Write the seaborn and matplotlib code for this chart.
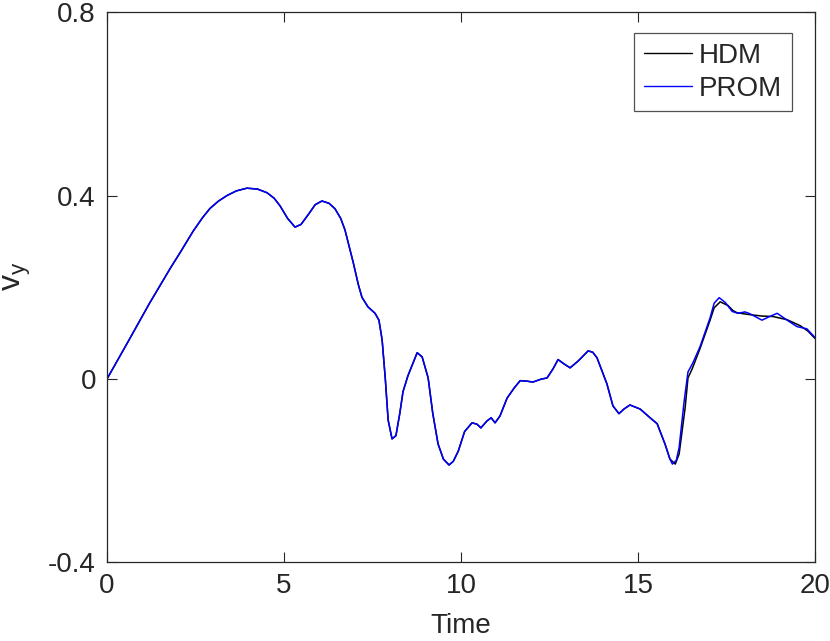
import numpy as np
import pandas as pd
import matplotlib
matplotlib.use("Agg")
import matplotlib.pyplot as plt
import seaborn as sns

# shared part of the trajectory (HDM and PROM overlap up to t ~ 15.9)
time_common = [0, 0.6, 1.2, 1.8, 2.06, 2.43, 2.7, 2.91, 3.15, 3.39, 3.65, 3.95, 4.25, 4.52,
               4.72, 4.89, 5.1, 5.31, 5.48, 5.68, 5.88, 6.07, 6.27, 6.44, 6.6, 6.72, 6.95,
               7.1, 7.2, 7.37, 7.57, 7.68, 7.77, 7.86, 7.94, 8.05, 8.16, 8.27, 8.36, 8.5,
               8.62, 8.76, 8.9, 9.07, 9.2, 9.35, 9.5, 9.66, 9.78, 9.92, 10.1, 10.31, 10.45,
               10.56, 10.73, 10.85, 10.96, 11.1, 11.3, 11.5, 11.67, 11.85, 12.03, 12.25,
               12.43, 12.6, 12.74, 12.9, 13.08, 13.31, 13.59, 13.72, 13.84, 14.12, 14.29,
               14.46, 14.6, 14.77, 15.06, 15.34, 15.54, 15.76, 15.9]
vy_common = [0, 0.082, 0.165, 0.243, 0.275, 0.322, 0.352, 0.372, 0.388, 0.400, 0.410, 0.416,
             0.414, 0.406, 0.394, 0.377, 0.350, 0.331, 0.337, 0.358, 0.380, 0.388, 0.383,
             0.371, 0.350, 0.325, 0.255, 0.205, 0.178, 0.157, 0.143, 0.128, 0.085, 0.0,
             -0.09, -0.131, -0.124, -0.075, -0.028, 0.007, 0.030, 0.057, 0.048, 0.002,
             -0.075, -0.142, -0.175, -0.188, -0.180, -0.158, -0.115, -0.096, -0.099, -0.107,
             -0.092, -0.085, -0.096, -0.081, -0.042, -0.020, -0.004, -0.005, -0.007, -0.001,
             0.002, 0.022, 0.042, 0.033, 0.024, 0.039, 0.061, 0.058, 0.046, -0.011, -0.059,
             -0.076, -0.066, -0.057, -0.066, -0.085, -0.098, -0.142, -0.175]

# tails where the two solutions separate
time_hdm_tail = [16.05, 16.16, 16.33, 16.41, 16.53, 16.75, 17.03, 17.15, 17.32, 17.54, 17.68,
                 17.8, 18.16, 18.5, 18.81, 19.21, 19.58, 19.8, 20.0]
vy_hdm_tail = [-0.186, -0.164, -0.063, 0.002, 0.022, 0.066, 0.127, 0.155, 0.168, 0.160, 0.149,
               0.144, 0.140, 0.137, 0.136, 0.129, 0.116, 0.104, 0.088]
time_prom_tail = [15.97, 16.08, 16.16, 16.3, 16.41, 16.55, 16.75, 17.03, 17.15, 17.29, 17.46,
                  17.66, 17.82, 18.02, 18.16, 18.5, 18.72, 18.93, 19.21, 19.49, 19.77, 20.0]
vy_prom_tail = [-0.186, -0.178, -0.150, -0.05, 0.015, 0.035, 0.07, 0.132, 0.165, 0.177, 0.167,
                0.147, 0.143, 0.146, 0.142, 0.128, 0.136, 0.143, 0.128, 0.114, 0.109, 0.090]

x_ticks = [0, 5, 10, 15, 20]
y_ticks = [-0.4, 0, 0.4, 0.8]
y_tick_labels = ["-0.4", "0", "0.4", "0.8"]

sns.set_theme(style="ticks")
plt.rcParams['font.family'] = ['Liberation Sans', 'DejaVu Sans']
plt.rcParams['mathtext.fontset'] = 'custom'
plt.rcParams['mathtext.rm'] = 'Liberation Sans'


def main():
    hdm = pd.DataFrame({"Time": time_common + time_hdm_tail, "vy": vy_common + vy_hdm_tail})
    hdm["model"] = "HDM"
    prom = pd.DataFrame({"Time": time_common + time_prom_tail, "vy": vy_common + vy_prom_tail})
    prom["model"] = "PROM"
    df = pd.concat([hdm, prom], ignore_index=True)

    fig = plt.figure(figsize=(8.30, 6.41), dpi=100)
    ax = fig.add_axes([0.129, 0.123, 0.853, 0.858])

    sns.lineplot(data=df, x="Time", y="vy", hue="model", sort=False, estimator=None,
                 palette={"HDM": "black", "PROM": "blue"}, linewidth=1.1, ax=ax)

    ax.set_xlim(0, 20)
    ax.set_ylim(-0.4, 0.8)
    ax.set_xticks(x_ticks)
    ax.set_yticks(y_ticks)
    ax.set_yticklabels(y_tick_labels)
    ax.tick_params(direction="in", length=7, width=0.8, colors="#262626",
                   labelsize=20, top=True, right=True, pad=8)
    for sp in ax.spines.values():
        sp.set_color("#262626")
        sp.set_linewidth(0.9)

    ax.set_xlabel("Time", fontsize=20, color="#262626", labelpad=10)
    ax.set_ylabel(r"$\mathregular{v_y}$", fontsize=23, color="#262626")
    ax.yaxis.set_label_coords(-0.104, 0.52)

    leg = ax.legend(loc="upper right", bbox_to_anchor=(0.9675, 0.962), borderaxespad=0,
                    fontsize=20, frameon=True, fancybox=False, handlelength=1.75,
                    handletextpad=0.25, borderpad=0.35, labelspacing=0.25)
    leg.get_frame().set_edgecolor("#262626")
    leg.get_frame().set_linewidth(0.9)
    for line in leg.get_lines():
        line.set_linewidth(1.0)

    fig.savefig("out.png", dpi=100)


if __name__ == '__main__':
    main()
